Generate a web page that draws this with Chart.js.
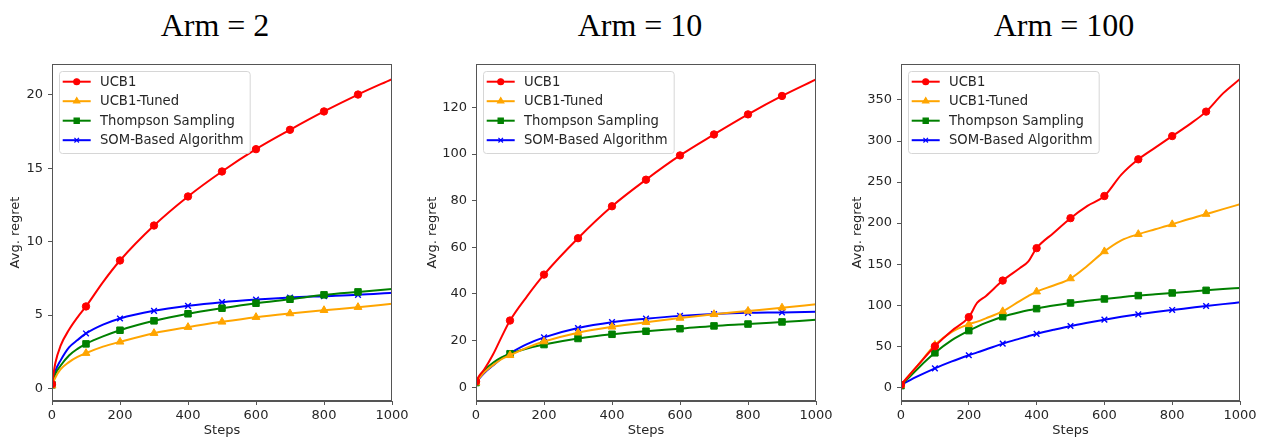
<!DOCTYPE html>
<html><head><meta charset="utf-8">
<script src="https://cdn.jsdelivr.net/npm/chart.js@4.4.0/dist/chart.umd.min.js"></script>
<style>
body{margin:0;background:#fff;width:1264px;height:439px;overflow:hidden;position:relative;}
.title{position:absolute;top:9px;font-family:"Liberation Serif","Times New Roman",serif;font-size:32px;line-height:1;color:#000;transform:translateX(-50%);white-space:nowrap;}
.box{position:absolute;top:50px;height:389px;}
canvas{display:block;}
</style></head><body>
<div class="title" style="left:215px">Arm = 2</div>
<div class="title" style="left:640px">Arm = 10</div>
<div class="title" style="left:1064px">Arm = 100</div>
<div class="box" style="left:0;width:420px"><canvas id="c1" width="420" height="389"></canvas></div>
<div class="box" style="left:420px;width:420px"><canvas id="c2" width="420" height="389"></canvas></div>
<div class="box" style="left:840px;width:424px"><canvas id="c3" width="424" height="389"></canvas></div>
<script>
// ---- data ----
const seriesNames = ['UCB1', 'UCB1-Tuned', 'Thompson Sampling', 'SOM-Based Algorithm'];
const xTicks = [0, 200, 400, 600, 800, 1000];

// Arm = 2
const steps2 = [0, 10, 25, 50, 75, 100, 150, 200, 300, 400, 500, 600, 700, 800, 900, 1000];
const ucb1_2  = [0.3, 1.75, 2.9, 4.0, 4.85, 5.59, 7.25, 8.72, 11.1, 13.08, 14.78, 16.3, 17.62, 18.87, 20.02, 21.07];
const tuned_2 = [0.2, 0.75, 1.3, 1.8, 2.15, 2.41, 2.85, 3.18, 3.77, 4.18, 4.54, 4.86, 5.11, 5.33, 5.54, 5.77];
const ts_2    = [0.25, 1.0, 1.55, 2.25, 2.7, 3.04, 3.55, 3.97, 4.61, 5.09, 5.47, 5.81, 6.08, 6.38, 6.58, 6.77];
const som_2   = [0.3, 1.2, 1.9, 2.8, 3.3, 3.75, 4.35, 4.77, 5.29, 5.63, 5.88, 6.06, 6.2, 6.29, 6.38, 6.52];
const yTicks2 = [0, 5, 10, 15, 20];

// Arm = 10
const steps10 = [0, 10, 25, 50, 75, 100, 150, 200, 300, 400, 500, 600, 700, 800, 900, 1000];
const ucb1_10  = [2.5, 5.0, 7.8, 14, 21.5, 28.6, 39, 48.3, 63.9, 77.6, 89, 99.4, 108.4, 117, 124.9, 132];
const tuned_10 = [2, 4, 6.5, 9.5, 12, 13.7, 17, 19.6, 23.4, 25.9, 27.9, 29.7, 31.3, 32.7, 34.1, 35.6];
const ts_10    = [2, 4.5, 7.3, 10.5, 12.8, 14.3, 16.6, 18.3, 20.9, 22.7, 24, 25.1, 26.3, 27.1, 28, 28.9];
const som_10   = [2, 3.8, 6.2, 9.3, 12.3, 14.6, 18.5, 21.4, 25.4, 27.9, 29.4, 30.6, 31.4, 31.9, 32.1, 32.4];
const yTicks10 = [0, 20, 40, 60, 80, 100, 120];

// Arm = 100
const steps100 = [0, 50, 100, 150, 200, 225, 250, 300, 350, 375, 400, 450, 500, 550, 600, 650, 700, 750, 800, 850, 900, 950, 1000];
const ucb1_100  = [3, 27, 50, 69, 85.5, 103, 111, 130, 145, 153, 169.5, 188, 206, 221, 233, 259, 277.7, 292, 306, 320, 335.8, 358, 375.5];
const tuned_100 = [3, 27, 51.5, 67.5, 76.7, 80, 84, 92.5, 105, 111, 116.5, 124, 132.5, 148, 165.5, 179, 186.5, 192.5, 198.5, 205, 211, 217, 222.9];
const ts_100    = [2, 23, 42, 57.5, 69, 74, 78.5, 86, 91.5, 93.8, 95.8, 99.5, 102.7, 105.3, 107.6, 109.7, 111.7, 113.3, 114.9, 116.5, 118.1, 119.6, 121];
const som_100   = [3, 13.5, 23.1, 31.5, 39, 42.5, 46, 53.2, 59.3, 62.2, 65, 70, 74.7, 78.7, 82.4, 85.8, 88.9, 91.7, 94.2, 96.6, 99, 101.3, 103.5];
const yTicks100 = [0, 50, 100, 150, 200, 250, 300, 350];

// ---- styles ----
const colors = ['#ff0000', '#ffa500', '#008000', '#0000ff'];
const markers = ['circle', 'triangle', 'rect', 'crossRot'];
const markerR = [3.7, 4.5, 4.6, 4];
const axisColor = '#555';
const textColor = '#262626';
const FONT = '"DejaVu Sans", sans-serif';

const framePlugin = {
  id: 'frame',
  afterDraw(chart) {
    const a = chart.chartArea, ctx = chart.ctx;
    ctx.save();
    ctx.strokeStyle = axisColor;
    ctx.lineWidth = 1;
    ctx.strokeRect(Math.round(a.left) + 0.5, Math.round(a.top) + 0.5, Math.round(a.right - a.left) - 1, Math.round(a.bottom - a.top) - 1);
    ctx.restore();
  }
};

const legendPlugin = {
  id: 'mplLegend',
  afterDatasetsDraw(chart) {
    const ctx = chart.ctx, a = chart.chartArea;
    const ds = chart.data.datasets;
    ctx.save();
    ctx.font = '13.2px ' + FONT;
    const tw = Math.max(...ds.map(d => ctx.measureText(d.label).width));
    const bx = a.left + 7, by = a.top + 7, bw = 41 + tw + 6, bh = 82;
    ctx.beginPath();
    if (ctx.roundRect) ctx.roundRect(bx + 0.5, by + 0.5, bw, bh, 3); else ctx.rect(bx + 0.5, by + 0.5, bw, bh);
    ctx.fillStyle = 'rgba(255,255,255,0.85)';
    ctx.fill();
    ctx.strokeStyle = '#d6d6d6';
    ctx.lineWidth = 1;
    ctx.stroke();
    ds.forEach((d, i) => {
      const cy = a.top + 17.7 + i * 19.5;
      ctx.strokeStyle = d.borderColor;
      ctx.lineWidth = 2;
      ctx.beginPath();
      ctx.moveTo(a.left + 10.7, cy);
      ctx.lineTo(a.left + 38.7, cy);
      ctx.stroke();
      ctx.fillStyle = d.borderColor;
      ctx.strokeStyle = d.borderColor;
      ctx.lineWidth = 1.2;
      Chart.helpers.drawPoint(ctx, {pointStyle: markers[i], radius: markerR[i] * 0.8, borderWidth: 1.2, rotation: 0}, a.left + 24.7, cy);
      ctx.fillStyle = textColor;
      ctx.textBaseline = 'middle';
      ctx.textAlign = 'left';
      ctx.fillText(d.label, a.left + 48, cy + 0.5);
    });
    ctx.restore();
  }
};

function build(id, steps, seriesVals, yTicks, yMin, yMax, yWidth, padRight, yTitlePad) {
  const datasets = seriesVals.map((vals, i) => ({
    label: seriesNames[i],
    data: steps.map((s, k) => ({x: s, y: vals[k]})),
    borderColor: colors[i],
    backgroundColor: colors[i],
    borderWidth: 2,
    cubicInterpolationMode: 'monotone',
    pointStyle: markers[i],
    pointRadius: ctx => (ctx.raw && ctx.raw.x % 100 === 0 && ctx.raw.x < 1000) ? markerR[i] : 0,
    pointBorderWidth: i === 3 ? 1.4 : 1,
    pointBorderColor: colors[i],
    pointBackgroundColor: colors[i],
    order: i
  }));
  return new Chart(document.getElementById(id), {
    type: 'line',
    data: {datasets},
    options: {
      responsive: false,
      animation: false,
      events: [],
      layout: {padding: {left: 0, top: 14, right: padRight, bottom: 0}},
      plugins: {legend: {display: false}, tooltip: {enabled: false}},
      scales: {
        x: {
          type: 'linear', min: 0, max: 1000,
          afterFit: s => { s.height = 38; },
          afterBuildTicks: s => { s.ticks = xTicks.map(v => ({value: v})); },
          ticks: {color: textColor, font: {family: FONT, size: 13}, padding: 3, maxRotation: 0, callback: v => String(v)},
          grid: {drawOnChartArea: false, drawTicks: true, tickLength: 4, color: axisColor},
          border: {color: axisColor},
          title: {display: true, text: 'Steps', color: textColor, font: {family: FONT, size: 13}, padding: {top: 0, bottom: 1}}
        },
        y: {
          type: 'linear', min: yMin, max: yMax,
          afterFit: s => { s.width = yWidth; },
          afterBuildTicks: s => { s.ticks = yTicks.map(v => ({value: v})); },
          ticks: {color: textColor, font: {family: FONT, size: 13}, padding: 5, callback: v => String(v)},
          grid: {drawOnChartArea: false, drawTicks: true, tickLength: 4, color: axisColor},
          border: {color: axisColor},
          title: {display: true, text: 'Avg. regret', color: textColor, font: {family: FONT, size: 13}, padding: {top: yTitlePad, bottom: 0}}
        }
      }
    },
    plugins: [framePlugin, legendPlugin]
  });
}

build('c1', steps2, [ucb1_2, tuned_2, ts_2, som_2], yTicks2, -0.85, 22.1, 52, 28, 8.2);
build('c2', steps10, [ucb1_10, tuned_10, ts_10, som_10], yTicks10, -5.9, 138.6, 56, 24, 4.9);
build('c3', steps100, [ucb1_100, tuned_100, ts_100, som_100], yTicks100, -16.7, 393.8, 61, 24, 9.5);
</script>
</body></html>
